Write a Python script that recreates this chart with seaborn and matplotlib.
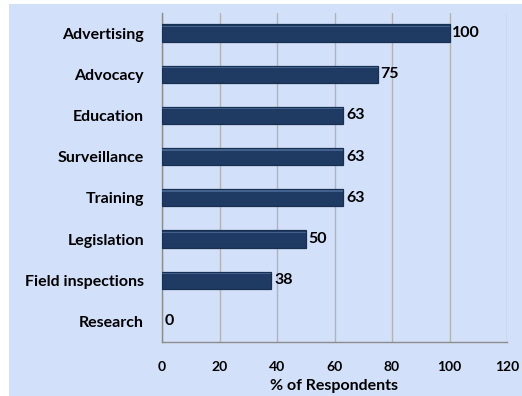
import matplotlib
matplotlib.use("Agg")
import matplotlib.pyplot as plt
import seaborn as sns
import pandas as pd
from matplotlib.patches import Rectangle

categories = ["Advertising", "Advocacy", "Education", "Surveillance", "Training",
              "Legislation", "Field inspections", "Research"]
values = [100, 75, 63, 63, 63, 50, 38, 0]
x_ticks = [0, 20, 40, 60, 80, 100, 120]

sns.set_theme(style="white")
plt.rcParams['font.family'] = ['Lato', 'DejaVu Sans']
plt.rcParams['font.weight'] = 'bold'

bg = "#D3E0FA"
fig = plt.figure(figsize=(5.22, 3.96), dpi=100)
fig.patch.set_facecolor("white")
fig.patches.append(Rectangle((9/522, 0), 1, 1 - 4/396, transform=fig.transFigure,
                             facecolor=bg, edgecolor="none", zorder=-10))
ax = fig.add_axes([162/522, 1 - 342/396, (507-162)/522, (342-12.5)/396])
ax.set_facecolor(bg)

df = pd.DataFrame({"cat": categories, "val": values})
sns.barplot(data=df, x="val", y="cat", orient="h", color="#1F3B64", width=0.42,
            edgecolor="#17304F", linewidth=0.9, saturation=1, ax=ax, zorder=3)

# subtle highlight near the top of each bar and hide edges of empty bars
for p in list(ax.patches):
    if p.get_width() == 0:
        p.set_linewidth(0)
        continue
    x0, y0 = p.get_x(), p.get_y()
    w, h = p.get_width(), p.get_height()
    ax.add_patch(Rectangle((x0, y0 + h * 0.07), w, h * 0.08, facecolor="#5A7BAA",
                           edgecolor="none", alpha=0.6, zorder=4))

ax.set_xlim(0, 120)
ax.set_xticks(x_ticks)
ax.set_ylim(len(categories) - 0.5, -0.5)
ax.xaxis.grid(True, color="#B3B3B3", linewidth=1.0, zorder=0)
ax.yaxis.grid(False)
for s in ["top", "right"]:
    ax.spines[s].set_visible(False)
for s in ["left", "bottom"]:
    ax.spines[s].set_color("#8C8C8C")
    ax.spines[s].set_linewidth(1.0)

ax.set_yticks(range(len(categories)))
ax.set_yticklabels(categories, fontsize=11.5, fontweight="bold", color="black")
ax.tick_params(axis="y", length=0, pad=13)
ax.set_yticks([i + 0.5 for i in range(-1, len(categories))], minor=True)
ax.tick_params(axis="y", which="minor", length=5, color="#8C8C8C", width=1, direction="out")
ax.tick_params(axis="x", length=4, color="#8C8C8C", width=1, direction="out", pad=10,
               labelsize=10, labelcolor="black")
for lab in ax.get_xticklabels():
    lab.set_fontweight("bold")

ax.set_xlabel("% of Respondents", fontsize=11.5, fontweight="bold", color="black", labelpad=4)
ax.set_ylabel("")

for i, v in enumerate(values):
    ax.annotate(str(v), (v, i), xytext=(2, 0), textcoords="offset points",
                ha="left", va="center", fontsize=11.5, fontweight="bold", color="black")

fig.savefig("out.png", dpi=100, facecolor=fig.get_facecolor())
